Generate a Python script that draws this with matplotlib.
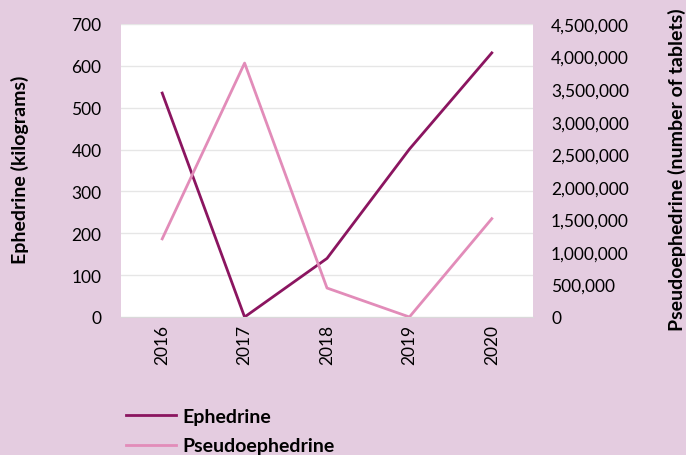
import matplotlib.pyplot as plt
from matplotlib.ticker import FuncFormatter

# data
years = ['2016', '2017', '2018', '2019', '2020']
ephedrine_kg = [535, 0, 140, 401, 631]
pseudo_tablets = [1200000, 3900000, 445000, 0, 1510000]

bg = '#E4CCE0'
eph_color = '#8B1560'
pse_color = '#E28CB9'

plt.rcParams['font.family'] = ['Lato', 'DejaVu Sans']

fig = plt.figure(figsize=(6.86, 4.56), dpi=100, facecolor=bg)
ax1 = fig.add_axes([121 / 686, 1 - 318 / 456, 412 / 686, 293 / 456])
ax1.set_facecolor('white')

x = list(range(len(years)))
l1, = ax1.plot(x, ephedrine_kg, color=eph_color, lw=2, label='Ephedrine')
ax1.set_xlim(-0.5, len(years) - 0.5)
ax1.set_ylim(0, 700)
ax1.set_yticks(range(0, 701, 100))
ax1.yaxis.grid(True, color='#E6E6E6', lw=1)
ax1.set_axisbelow(True)
ax1.set_xticks(x)
ax1.set_xticklabels(years, rotation=90, fontsize=12.5)
ax1.tick_params(axis='y', labelsize=12.5, length=0, pad=14)
ax1.tick_params(axis='x', length=0, pad=5)
for s in ['top', 'right', 'left']:
    ax1.spines[s].set_visible(False)
ax1.spines['bottom'].set_color('#D9D9D9')

ax2 = ax1.twinx()
l2, = ax2.plot(x, pseudo_tablets, color=pse_color, lw=2, label='Pseudoephedrine')
ax2.set_ylim(0, 4500000)
ax2.set_yticks(range(0, 4500001, 500000))
ax2.yaxis.set_major_formatter(FuncFormatter(lambda v, p: f'{int(v):,}'))
ax2.tick_params(axis='y', labelsize=12.5, length=0, pad=13)
for s in ax2.spines.values():
    s.set_visible(False)

# axis titles placed in figure coords
fig.text(20 / 686, 1 - 170 / 456, 'Ephedrine (kilograms)', rotation=90, fontsize=14,
         fontweight='bold', ha='center', va='center')
fig.text(677 / 686, 1 - 170 / 456, 'Pseudoephedrine (number of tablets)', rotation=90,
         fontsize=14, fontweight='bold', ha='center', va='center')

leg = fig.legend(handles=[l1, l2], loc='upper left', bbox_to_anchor=(118 / 686, 1 - 401 / 456),
                 frameon=False, fontsize=14, handlelength=2.6, handletextpad=0.3,
                 labelspacing=0.65, borderaxespad=0)
for t in leg.get_texts():
    t.set_fontweight('bold')

fig.savefig('out.png', dpi=100, facecolor=bg)
